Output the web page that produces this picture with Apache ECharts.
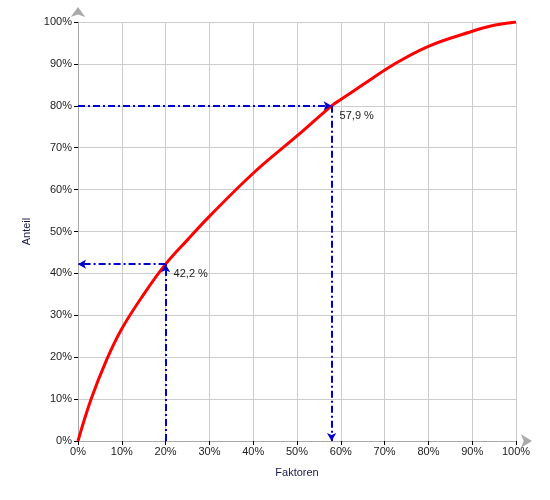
<!DOCTYPE html>
<html><head><meta charset="utf-8">
<script src="https://cdn.jsdelivr.net/npm/echarts@6/dist/echarts.min.js"></script>
<style>html,body{margin:0;padding:0;background:#fff}#c{width:550px;height:500px}</style>
</head><body><div id="c"></div>
<script>
const factorX = [0, 3, 6.5, 10, 15, 20, 25, 30, 40, 50, 57.9, 60, 65, 72, 80, 90, 94, 100];
const shareY  = [0, 10, 19.3, 26.8, 35, 42.2, 48, 53.6, 63.9, 72.8, 80, 81.5, 85, 89.8, 94.2, 97.8, 99, 100];
const markA = {x: 20, y: 42.2, label: '42,2 %'};
const markB = {x: 57.9, y: 80, label: '57,9 %'};
const xTitle = 'Faktoren';
const yTitle = 'Anteil';

const font = 'Liberation Sans, Arial, sans-serif';
const blue = '#0000cc';
const chart = echarts.init(document.getElementById('c'), null, {renderer: 'canvas'});
const lineStyle = {color: blue, width: 2, type: [7, 3, 2, 3]};
function seg(a, b) {
  return [{coord: a}, {coord: b}];
}
chart.setOption({
  animation: false,
  grid: {left: 78, right: 34, top: 22, bottom: 59},
  xAxis: {
    type: 'value', min: 0, max: 100, interval: 10,
    name: xTitle, nameLocation: 'middle', nameGap: 26,
    nameTextStyle: {color: '#1a1a4a', fontSize: 11, fontFamily: font},
    axisLine: {show: true, lineStyle: {color: '#aaaaaa', width: 1}, symbol: ['none', 'arrow'], symbolSize: [10, 11], symbolOffset: [0, 16]},
    axisTick: {show: true, length: 4, lineStyle: {color: '#000'}},
    axisLabel: {formatter: '{value}%', color: '#222', fontSize: 11, fontFamily: font, margin: 5},
    splitLine: {show: true, lineStyle: {color: '#cccccc', width: 1}}
  },
  yAxis: {
    type: 'value', min: 0, max: 100, interval: 10,
    name: yTitle, nameLocation: 'middle', nameGap: 46, nameRotate: 90,
    nameTextStyle: {color: '#1a1a4a', fontSize: 11, fontFamily: font},
    axisLine: {show: true, lineStyle: {color: '#aaaaaa', width: 1}, symbol: ['none', 'arrow'], symbolSize: [11, 10], symbolOffset: [0, 15]},
    axisTick: {show: true, length: 4, lineStyle: {color: '#000'}},
    axisLabel: {formatter: '{value}%', color: '#222', fontSize: 11, fontFamily: font, margin: 6},
    splitLine: {show: true, lineStyle: {color: '#cccccc', width: 1}}
  },
  series: [
    {
      type: 'line',
      data: factorX.map((x, i) => [x, shareY[i]]),
      showSymbol: false,
      smooth: 0.4,
      lineStyle: {color: '#ff0000', width: 3},
      z: 3,
      markLine: {
        silent: true,
        symbol: ['none', 'arrow'],
        symbolSize: [7, 8],
        lineStyle: lineStyle,
        label: {show: false},
        data: [
          seg([markA.x, 0], [markA.x, markA.y]),
          seg([markA.x, markA.y], [0, markA.y]),
          seg([0, markB.y], [markB.x, markB.y]),
          seg([markB.x, markB.y], [markB.x, 0])
        ]
      },
      markPoint: {
        silent: true,
        symbol: 'circle', symbolSize: 0,
        label: {show: true, position: 'right', distance: 0, offset: [8, 10], color: '#222', fontSize: 11, fontFamily: font,
                formatter: p => p.name},
        data: [
          {name: markA.label, coord: [markA.x, markA.y]},
          {name: markB.label, coord: [markB.x, markB.y]}
        ]
      }
    }
  ]
});
</script></body></html>
